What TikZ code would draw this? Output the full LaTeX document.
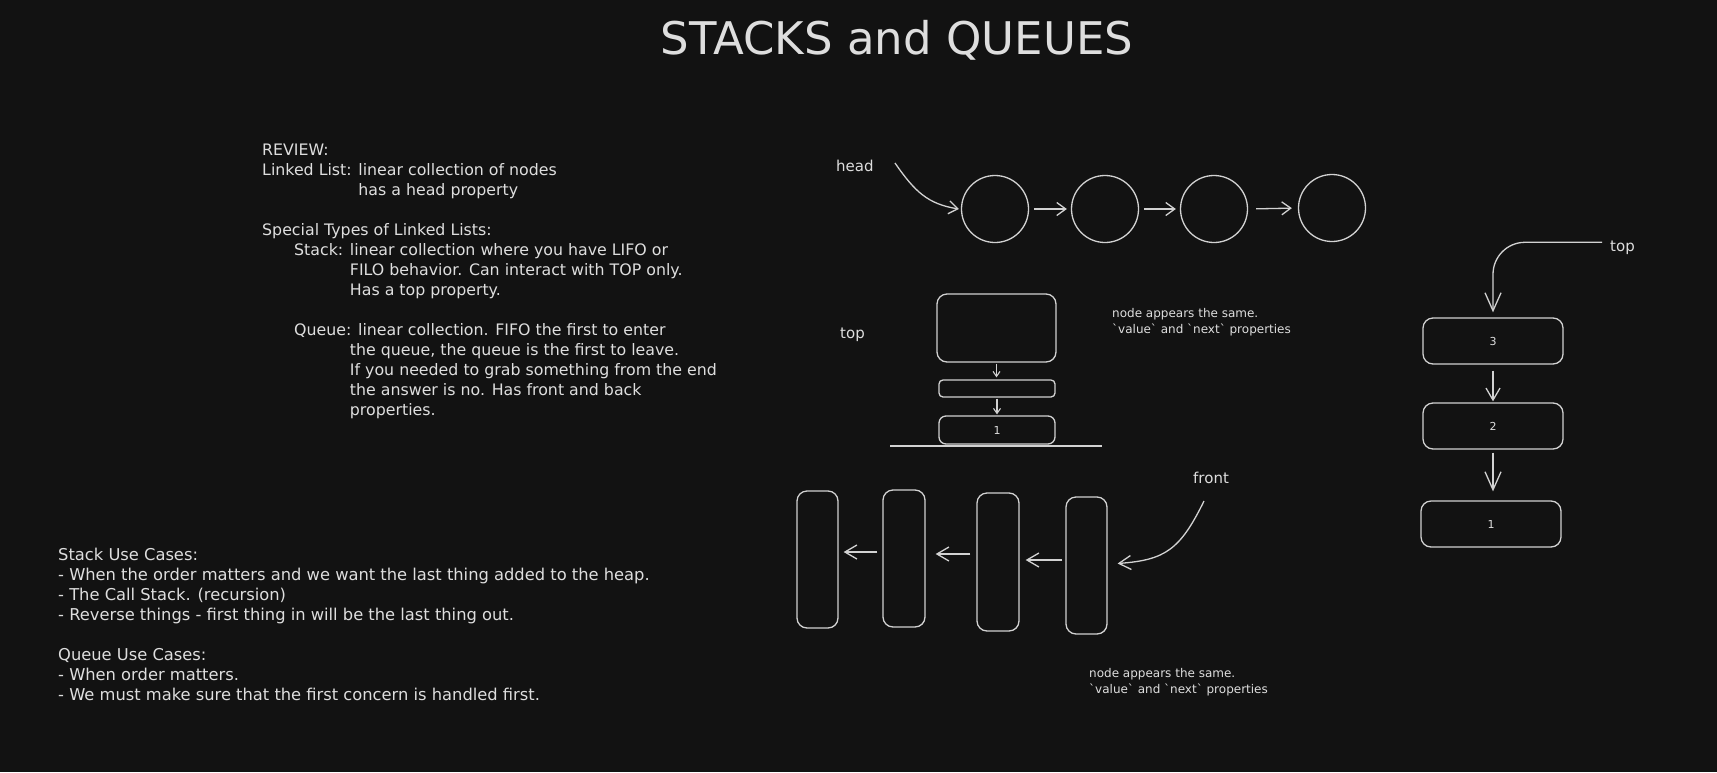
\documentclass[tikz,border=0pt]{standalone}
\usepackage{fontspec}
\setmainfont{DejaVu Sans}
\usetikzlibrary{arrows.meta}
\definecolor{bg}{HTML}{121212}
\definecolor{ink}{HTML}{DEDEDE}
\definecolor{strk}{HTML}{D2D2D2}
\tikzset{
  txt/.style={anchor=base west, inner sep=0pt, text=ink, font=\fontsize{15.8}{20}\selectfont},
  btxt/.style={anchor=base west, inner sep=0pt, text=ink, font=\fontsize{16.3}{20}\selectfont},
  note/.style={anchor=base west, inner sep=0pt, text=ink, font=\fontsize{12}{16}\selectfont},
  lbl/.style={anchor=base west, inner sep=0pt, text=ink, font=\fontsize{15}{18}\selectfont},
  cnode/.style={draw=strk, line width=1.3pt, circle, minimum size=67pt, inner sep=0pt},
  rbox/.style={draw=strk, line width=1.3pt, rounded corners=10pt, inner sep=0pt, text=ink, font=\fontsize{11}{13}\selectfont},
  arrl/.style={draw=strk, line width=1.3pt, -{Straight Barb[length=9pt,width=13pt,line width=1.3pt]}},
  arrs/.style={draw=strk, line width=1.1pt, -{Straight Barb[length=5pt,width=7pt,line width=1.1pt]}},
  arrq/.style={draw=strk, line width=1.3pt, -{Straight Barb[length=12pt,width=14pt,line width=1.3pt]}},
  arrb/.style={draw=strk, line width=1.3pt, -{Straight Barb[length=18pt,width=16pt,line width=1.3pt]}},
}
\begin{document}
\begin{tikzpicture}[x=1pt,y=-1pt]
\fill[bg] (0,0) rectangle (1717,772);
\useasboundingbox (0,0) rectangle (1717,772);

% title
\node[anchor=base, inner sep=0pt, text=ink, font=\fontsize{45}{50}\selectfont] (title) at (897,54) {STACKS and QUEUES};

% review text
\node[txt] (r1) at (262,155) {REVIEW:};
\node[txt] (r2) at (262,175) {Linked List: linear collection of nodes};
\node[txt] (r3) at (262,195) {\hphantom{Linked List: }has a head property};
\node[txt] (r4) at (262,235) {Special Types of Linked Lists:};
\node[txt] (r5) at (294,255) {Stack: linear collection where you have LIFO or};
\node[txt] (r6) at (294,275) {\hphantom{Stack: }FILO behavior. Can interact with TOP only.};
\node[txt] (r7) at (294,295) {\hphantom{Stack: }Has a top property.};
\node[txt] (r8) at (294,335) {Queue: linear collection. FIFO the first to enter};
\node[txt] (r9) at (294,355) {\hphantom{Stack: }the queue, the queue is the first to leave.};
\node[txt] (r10) at (294,375) {\hphantom{Stack: }If you needed to grab something from the end};
\node[txt] (r11) at (294,395) {\hphantom{Stack: }the answer is no. Has front and back};
\node[txt] (r12) at (294,415) {\hphantom{Stack: }properties.};

% use cases
\node[btxt] (u1) at (58,560) {Stack Use Cases:};
\node[btxt] (u2) at (58,580) {- When the order matters and we want the last thing added to the heap.};
\node[btxt] (u3) at (58,600) {- The Call Stack. (recursion)};
\node[btxt] (u4) at (58,620) {- Reverse things - first thing in will be the last thing out.};
\node[btxt] (u5) at (58,660) {Queue Use Cases:};
\node[btxt] (u6) at (58,680) {- When order matters.};
\node[btxt] (u7) at (58,700) {- We must make sure that the first concern is handled first.};

% linked list
\node[lbl] (head) at (836,171) {head};
\node[cnode] (c1) at (995,209) {};
\node[cnode] (c2) at (1105,209) {};
\node[cnode] (c3) at (1214,209) {};
\node[cnode] (c4) at (1332,208) {};
\coordinate (hs) at (895,163);
\draw[arrl] (hs) .. controls (915,192) and (928,204) .. ([xshift=-2pt]c1.west);
\draw[arrl, shorten <=5pt, shorten >=4pt] (c1.east) -- (c2.west);
\draw[arrl, shorten <=5pt, shorten >=4pt] (c2.east) -- (c3.west);
\draw[arrl, shorten <=8pt, shorten >=6pt] (c3.east) -- (c4.west);

% middle stack
\node[lbl] (top1) at (840,338) {top};
\node[rbox, minimum width=119pt, minimum height=68pt] (sbig) at (996.5,328) {};
\node[rbox, rounded corners=4pt, minimum width=116pt, minimum height=17pt] (sthin) at (997,388.5) {};
\node[rbox, rounded corners=7pt, minimum width=116pt, minimum height=28pt] (sone) at (997,430) {1};
\draw[arrs, shorten <=1pt, shorten >=2pt] (sbig.south) -- (sbig.south |- sthin.north);
\draw[arrs, shorten <=1pt, shorten >=1pt] (sthin.south) -- (sone.north);
\draw[strk, line width=1.6pt] (890,446) -- (1102,446);
\node[note] (n1a) at (1112,317) {node appears the same.};
\node[note] (n1b) at (1112,333) {\textasciigrave value\textasciigrave{} and \textasciigrave next\textasciigrave{} properties};

% right stack
\node[lbl] (top2) at (1610,251) {top};
\node[rbox, minimum width=140pt, minimum height=46pt] (b3) at (1493,341) {3};
\node[rbox, minimum width=140pt, minimum height=46pt] (b2) at (1493,426) {2};
\node[rbox, minimum width=140pt, minimum height=46pt] (b1) at (1491,524) {1};
\draw[arrb, rounded corners=32pt, shorten >=5pt] ([xshift=-8pt,yshift=5pt]top2.west) -| (b3.north);
\draw[arrq, shorten <=6pt, shorten >=1pt] (b3.south) -- (b2.north);
\draw[arrb, shorten <=3pt, shorten >=9pt] (b2.south) -- (b2.south |- b1.north);

% queue
\node[lbl] (front) at (1193,483) {front};
\node[rbox, minimum width=41pt, minimum height=137pt] (qa) at (817.5,559.5) {};
\node[rbox, minimum width=42pt, minimum height=137pt] (qb) at (904,558.5) {};
\node[rbox, minimum width=42pt, minimum height=138pt] (qc) at (998,562) {};
\node[rbox, minimum width=41pt, minimum height=137pt] (qd) at (1086.5,565.5) {};
\draw[arrq, shorten <=5pt, shorten >=5pt] ([yshift=6.5pt]qb.west) -- ([yshift=6.5pt]qb.west -| qa.east);
\draw[arrq, shorten <=6pt, shorten >=10pt] ([yshift=8pt]qc.west) -- ([yshift=8pt]qc.west -| qb.east);
\draw[arrq, shorten <=3pt, shorten >=6pt] ([yshift=5.5pt]qd.west) -- ([yshift=5.5pt]qd.west -| qc.east);
\coordinate (fs) at (1204,501);
\draw[arrq] (fs) .. controls (1180,550) and (1165,560) .. ([xshift=10pt,yshift=2pt]qd.east);
\node[note] (n2a) at (1089,677) {node appears the same.};
\node[note] (n2b) at (1089,693) {\textasciigrave value\textasciigrave{} and \textasciigrave next\textasciigrave{} properties};
\end{tikzpicture}
\end{document}
